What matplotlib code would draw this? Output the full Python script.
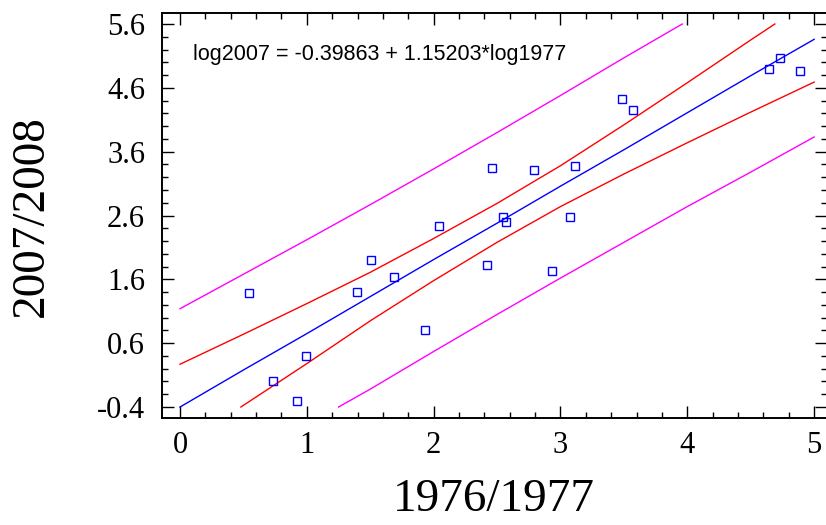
import numpy as np
import matplotlib
matplotlib.use("Agg")
import matplotlib.pyplot as plt
from matplotlib.ticker import MultipleLocator, FixedLocator

# observed points (1976/1977 vs 2007/2008)
x_obs = [0.544, 0.736, 0.925, 0.996, 1.393, 1.509, 1.685, 1.930, 2.040, 2.421, 2.458,
         2.547, 2.571, 2.792, 2.936, 3.076, 3.115, 3.486, 3.573, 4.648, 4.734, 4.890]
y_obs = [1.39, 0.00, -0.30, 0.40, 1.40, 1.90, 1.63, 0.80, 2.44, 1.83, 3.35,
         2.57, 2.50, 3.32, 1.73, 2.58, 3.38, 4.43, 4.25, 4.90, 5.06, 4.86]

# fitted line
fit_x = [0, 0.5, 1, 1.5, 2, 2.5, 3, 3.5, 4, 4.5, 5]
fit_y = [-0.40, 0.18, 0.75, 1.33, 1.91, 2.48, 3.06, 3.63, 4.21, 4.79, 5.36]

# confidence limits (red)
conf_hi_x = [0, 0.5, 1, 1.5, 2, 2.5, 3, 3.5, 4, 4.5, 4.69]
conf_hi_y = [0.27, 0.74, 1.22, 1.71, 2.24, 2.79, 3.38, 4.02, 4.68, 5.35, 5.60]
conf_lo_x = [0.48, 1, 1.5, 2, 2.5, 3, 3.5, 4, 4.5, 5]
conf_lo_y = [-0.40, 0.28, 0.95, 1.58, 2.18, 2.74, 3.25, 3.74, 4.22, 4.69]

# prediction limits (magenta)
pred_hi_x = [0, 0.5, 1, 1.5, 2, 2.5, 3, 3.5, 3.96]
pred_hi_y = [1.14, 1.68, 2.22, 2.77, 3.33, 3.90, 4.48, 5.07, 5.60]
pred_lo_x = [1.25, 1.5, 2, 2.5, 3, 3.5, 4, 4.5, 5]
pred_lo_y = [-0.40, -0.12, 0.47, 1.05, 1.62, 2.18, 2.74, 3.28, 3.83]

equation = "log2007 = -0.39863 + 1.15203*log1977"
x_ticks = [0, 1, 2, 3, 4, 5]
y_ticks = [-0.4, 0.6, 1.6, 2.6, 3.6, 4.6, 5.6]

fig = plt.figure(figsize=(8.26, 5.25), dpi=100)
ax = fig.add_axes([0.1958, 0.2038, 0.8052, 0.7709])

ax.plot(pred_hi_x, pred_hi_y, color="#ff00ff", lw=1)
ax.plot(pred_lo_x, pred_lo_y, color="#ff00ff", lw=1)
ax.plot(conf_hi_x, conf_hi_y, color="#ff0000", lw=1)
ax.plot(conf_lo_x, conf_lo_y, color="#ff0000", lw=1)
ax.plot(fit_x, fit_y, color="#0000ff", lw=1)
ax.plot(x_obs, y_obs, ls="none", marker="s", ms=6, mfc="none", mec="#0000ff", mew=1)

ax.set_xlim(-0.144, 5.10)
ax.set_ylim(-0.572, 5.768)
ax.xaxis.set_major_locator(FixedLocator(x_ticks))
ax.xaxis.set_minor_locator(MultipleLocator(0.2))
ax.yaxis.set_major_locator(FixedLocator(y_ticks))
ax.yaxis.set_minor_locator(FixedLocator(np.arange(-0.4, 5.61, 0.2)))
ax.set_yticklabels([f"{v:.1f}" for v in y_ticks])

ax.tick_params(which="both", direction="in", top=True, right=True, width=1)
ax.tick_params(which="major", length=8.6)
ax.tick_params(which="minor", length=4.3)
ax.tick_params(axis="y", which="major", pad=12, labelsize=22)
ax.tick_params(axis="x", which="major", pad=9, labelsize=22)
for lab in ax.get_xticklabels() + ax.get_yticklabels():
    lab.set_fontfamily("Liberation Serif")
for s in ax.spines.values():
    s.set_linewidth(1.4)

ax.set_xlabel("1976/1977", fontfamily="Liberation Serif", fontsize=34, labelpad=14)
ax.set_ylabel("2007/2008", fontfamily="Liberation Serif", fontsize=34, labelpad=32)

ax.text(0.047, 0.897, equation, transform=ax.transAxes, fontfamily="Liberation Sans",
        fontsize=15.5, va="center", ha="left")

fig.savefig("out.png", dpi=100)
